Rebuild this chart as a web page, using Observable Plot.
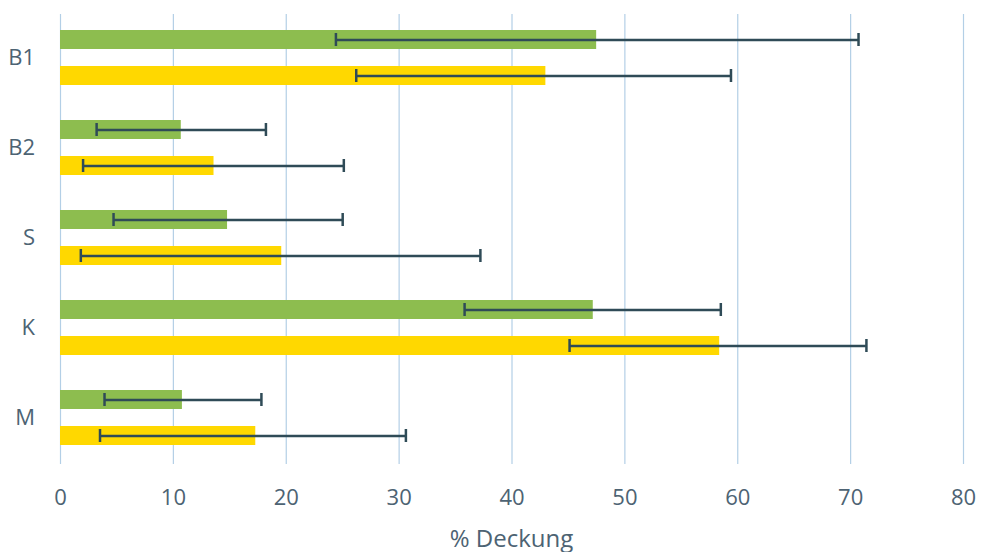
<!DOCTYPE html>
<html>
<head>
<meta charset="utf-8">
<script src="https://cdn.jsdelivr.net/npm/d3@7"></script>
<script src="https://cdn.jsdelivr.net/npm/@observablehq/plot@0.6"></script>
<style>
  body { margin: 0; background: #fff; }
  #xlabel { width: 987px; box-sizing: border-box; padding-left: 60px; padding-right: 24px; text-align: center;
    font: 24px "Open Sans", sans-serif; color: #4d6373; height: 29px; line-height: 29px; }
</style>
</head>
<body>
<div id="chart"></div>
<div id="xlabel">% Deckung</div>
<script>
const categories = ["B1", "B2", "S", "K", "M"];
const seriesNames = ["grün", "gelb"];
const greenMean = [47.5, 10.7, 14.8, 47.2, 10.8];
const greenLow  = [24.4, 3.2, 4.7, 35.8, 3.9];
const greenHigh = [70.7, 18.2, 25.0, 58.5, 17.8];
const yellowMean = [43.0, 13.6, 19.6, 58.4, 17.3];
const yellowLow  = [26.2, 2.0, 1.8, 45.1, 3.5];
const yellowHigh = [59.4, 25.1, 37.2, 71.4, 30.6];
const xTicks = [0, 10, 20, 30, 40, 50, 60, 70, 80];

const rows = [];
categories.forEach((c, i) => {
  rows.push({cat: c, series: seriesNames[0], mean: greenMean[i], lo: greenLow[i], hi: greenHigh[i]});
  rows.push({cat: c, series: seriesNames[1], mean: yellowMean[i], lo: yellowLow[i], hi: yellowHigh[i]});
});

const errColor = "#2f4b57";
const chart = Plot.plot({
  width: 987,
  height: 523,
  marginLeft: 60,
  marginRight: 24,
  marginTop: 12,
  marginBottom: 58,
  style: {fontFamily: "'Open Sans', sans-serif", fontSize: "22px", color: "#4d6373", background: "#fff"},
  facet: {data: rows, y: "cat"},
  fy: {domain: categories, padding: 0, axis: null},
  y: {domain: seriesNames, paddingInner: 0.482, paddingOuter: 0.4755, align: 0.46, axis: null},
  x: {domain: [0, 80], ticks: xTicks, tickSize: 0, tickPadding: 25, label: null},
  color: {domain: seriesNames, range: ["#8dbd4f", "#ffd800"]},
  marks: [
    Plot.ruleX(xTicks, {stroke: "#b3cfe6", strokeWidth: 1.2}),
    Plot.barX(rows, {x: "mean", y: "series", fill: "series"}),
    Plot.ruleY(rows, {x1: "lo", x2: "hi", y: "series", stroke: errColor, strokeWidth: 2.5}),
    Plot.tickX(rows, {x: "lo", y: "series", stroke: errColor, strokeWidth: 2.5, insetTop: 3, insetBottom: 3}),
    Plot.tickX(rows, {x: "hi", y: "series", stroke: errColor, strokeWidth: 2.5, insetTop: 3, insetBottom: 3}),
    Plot.text(rows, Plot.selectFirst({text: "cat", frameAnchor: "left", dx: -25.5, dy: -2, textAnchor: "end", fill: "#4d6373", fontSize: 22}))
  ]
});
document.getElementById("chart").appendChild(chart);
</script>
</body>
</html>
